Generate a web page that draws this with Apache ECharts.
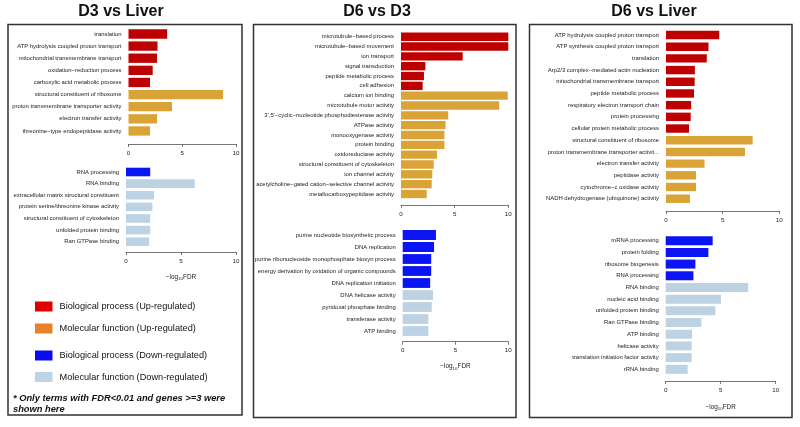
<!DOCTYPE html>
<html><head><meta charset="utf-8">
<script src="https://cdn.jsdelivr.net/npm/echarts@6/dist/echarts.min.js"></script>
<style>html,body{margin:0;padding:0;background:#fff}#c{width:800px;height:427px}</style>
</head><body><div id="c"></div><script>
// ---------- DATA ----------
const d3LiverUpBPCats = ['translation','ATP hydrolysis coupled proton transport','mitochondrial transmembrane transport','oxidation\u2212reduction process','carboxylic acid metabolic process'];
const d3LiverUpBPVals = [3.6, 2.7, 2.65, 2.25, 2.0];
const d3LiverUpMFCats = ['structural constituent of ribosome','proton transmembrane transporter activity','electron transfer activity','threonine\u2212type endopeptidase activity'];
const d3LiverUpMFVals = [8.8, 4.05, 2.65, 2.0];
const d3LiverDownBPCats = ['RNA processing'];
const d3LiverDownBPVals = [2.2];
const d3LiverDownMFCats = ['RNA binding','extracellular matrix structural constituent','protein serine/threonine kinase activity','structural constituent of cytoskeleton','unfolded protein binding','Ran GTPase binding'];
const d3LiverDownMFVals = [6.25, 2.55, 2.4, 2.2, 2.2, 2.1];

const d6D3UpBPCats = ['microtubule\u2212based process','microtubule\u2212based movement','ion transport','signal transduction','peptide metabolic process','cell adhesion'];
const d6D3UpBPVals = [10.0, 10.0, 5.75, 2.27, 2.14, 2.02];
const d6D3UpMFCats = ['calcium ion binding','microtubule motor activity','3\',5\'\u2212cyclic\u2212nucleotide phosphodiesterase activity','ATPase activity','monooxygenase activity','protein binding','oxidoreductase activity','structural constituent of cytoskeleton','ion channel activity','acetylcholine\u2212gated cation\u2212selective channel activity','metallocarboxypeptidase activity'];
const d6D3UpMFVals = [9.95, 9.15, 4.4, 4.15, 4.05, 4.05, 3.35, 3.05, 2.92, 2.86, 2.4];
const d6D3DownBPCats = ['purine nucleotide biosynthetic process','DNA replication','purine ribonucleoside monophosphate biosyn process','energy derivation by oxidation of organic compounds','DNA replication initiation'];
const d6D3DownBPVals = [3.15, 2.97, 2.7, 2.7, 2.6];
const d6D3DownMFCats = ['DNA helicase activity','pyridoxal phosphate binding','transferase activity','ATP binding'];
const d6D3DownMFVals = [2.87, 2.75, 2.43, 2.43];

const d6LiverUpBPCats = ['ATP hydrolysis coupled proton transport','ATP synthesis coupled proton transport','translation','Arp2/3 complex\u2212mediated actin nucleation','mitochondrial transmembrane transport','peptide metabolic process','respiratory electron transport chain','protein processing','cellular protein metabolic process'];
const d6LiverUpBPVals = [4.7, 3.75, 3.6, 2.55, 2.53, 2.47, 2.22, 2.18, 2.03];
const d6LiverUpMFCats = ['structural constituent of ribosome','proton transmembrane transporter activit...','electron transfer activity','peptidase activity','cytochrome\u2212c oxidase activity','NADH dehydrogenase (ubiquinone) activity'];
const d6LiverUpMFVals = [7.65, 6.97, 3.4, 2.65, 2.65, 2.12];
const d6LiverDownBPCats = ['mRNA processing','protein folding','ribosome biogenesis','RNA processing'];
const d6LiverDownBPVals = [4.27, 3.88, 2.7, 2.52];
const d6LiverDownMFCats = ['RNA binding','nucleic acid binding','unfolded protein binding','Ran GTPase binding','ATP binding','helicase activity','translation initiation factor activity','rRNA binding'];
const d6LiverDownMFVals = [7.5, 5.03, 4.52, 3.24, 2.39, 2.36, 2.36, 2.0];

const panelTitles = ['D3 vs Liver', 'D6 vs D3', 'D6 vs Liver'];
const xTicks = [0, 5, 10];
const legendLabels = ['Biological process (Up-regulated)','Molecular function (Up-regulated)','Biological process (Down-regulated)','Molecular function (Down-regulated)'];
const noteLines = ['* Only terms with FDR<0.01 and genes >=3 were', 'shown here'];

// ---------- STYLE / LAYOUT ----------
const FF = 'Liberation Sans, Arial, Helvetica, sans-serif';
const colUpBP = '#bf0000', colUpMF = '#d9a336', colDnBP = '#0b14f2', colDnMF = '#bdd3e3';
const legendColors = ['#e00000', '#e8822a', '#0a0af5', '#bcd4e6'];

const blocks = [
  {bp:[d3LiverUpBPCats,d3LiverUpBPVals], mf:[d3LiverUpMFCats,d3LiverUpMFVals], up:true, L:128.5, T:27.9, W:107.5, H:109.1, off:7, gap:'23%', name:false},
  {bp:[d3LiverDownBPCats,d3LiverDownBPVals], mf:[d3LiverDownMFCats,d3LiverDownMFVals], up:false, L:126, T:166.2, W:110, H:81.3, off:4.5, gap:'26%', name:true, nameGap:21},
  {bp:[d6D3UpBPCats,d6D3UpBPVals], mf:[d6D3UpMFCats,d6D3UpMFVals], up:true, L:401, T:31.8, W:107.3, H:167.1, off:6, gap:'15%', name:false},
  {bp:[d6D3DownBPCats,d6D3DownBPVals], mf:[d6D3DownMFCats,d6D3DownMFVals], up:false, L:402.7, T:229, W:105.6, H:108, off:4.7, gap:'18%', name:true, nameGap:21},
  {bp:[d6LiverUpBPCats,d6LiverUpBPVals], mf:[d6LiverUpMFCats,d6LiverUpMFVals], up:true, L:666, T:29.15, W:113.3, H:175.4, off:6.4, gap:'28%', name:false},
  {bp:[d6LiverDownBPCats,d6LiverDownBPVals], mf:[d6LiverDownMFCats,d6LiverDownMFVals], up:false, L:665.7, T:234.85, W:110, H:140.3, off:5.8, gap:'23%', name:true, nameGap:22}
];

const grid = [], xAxis = [], yAxis = [], series = [];
blocks.forEach((b, i) => {
  const cats = b.bp[0].concat(b.mf[0]);
  const cBP = b.up ? colUpBP : colDnBP, cMF = b.up ? colUpMF : colDnMF;
  const items = b.bp[1].map(v => ({value: v, itemStyle: {color: cBP}}))
    .concat(b.mf[1].map(v => ({value: v, itemStyle: {color: cMF}})));
  grid.push({left: b.L, top: b.T, width: b.W, height: b.H, containLabel: false, outerBoundsMode: 'none'});
  xAxis.push({
    gridIndex: i, type: 'value', min: xTicks[0], max: xTicks[xTicks.length-1], interval: xTicks[1]-xTicks[0],
    offset: b.off,
    axisLine: {show: true, lineStyle: {color: '#555', width: 0.8}},
    axisTick: {show: true, length: 3, lineStyle: {color: '#555', width: 0.8}},
    axisLabel: {fontSize: 6.2, color: '#222', margin: 6, fontFamily: FF},
    splitLine: {show: false},
    name: b.name ? '{a|\u2212log}{b|10}{a|FDR}' : '',
    nameLocation: 'middle', nameGap: b.nameGap || 20,
    nameTextStyle: {rich: {
      a: {fontSize: 6.4, color: '#222', fontFamily: FF},
      b: {fontSize: 4.4, color: '#222', fontFamily: FF, padding: [4, 0, 0, 0]}
    }}
  });
  yAxis.push({
    gridIndex: i, type: 'category', data: cats, inverse: true,
    axisLine: {show: false}, axisTick: {show: false}, splitLine: {show: false},
    axisLabel: {fontSize: 5.9, color: '#222', margin: 7, interval: 0, fontFamily: FF}
  });
  series.push({type: 'bar', xAxisIndex: i, yAxisIndex: i, data: items, barCategoryGap: b.gap, silent: true});
});

const boxes = [[8, 24.5, 234, 390.5], [253.5, 24.5, 262.5, 393], [529.5, 24.5, 262.5, 393]];
const titleX = [121, 377, 654];

const graphic = [];
boxes.forEach(r => graphic.push({type: 'rect', shape: {x: r[0], y: r[1], width: r[2], height: r[3]}, style: {fill: 'none', stroke: '#333', lineWidth: 1.5}, silent: true}));
const legY = [306.5, 328.5, 355.5, 377];
legendLabels.forEach((t, k) => {
  graphic.push({type: 'rect', shape: {x: 35, y: legY[k] - 5, width: 17.5, height: 10}, style: {fill: legendColors[k]}, silent: true});
  graphic.push({type: 'text', x: 59.5, y: legY[k], style: {text: t, fontSize: 9.2, fontFamily: FF, fill: '#111', textVerticalAlign: 'middle'}, silent: true});
});
noteLines.forEach((t, k) => graphic.push({type: 'text', x: 13, y: 398 + k * 11.5, style: {text: t, fontSize: 9.3, fontWeight: 'bold', fontStyle: 'italic', fontFamily: FF, fill: '#111', textVerticalAlign: 'middle'}, silent: true}));

const title = panelTitles.map((t, k) => ({text: t, left: titleX[k], top: 4, textAlign: 'center', padding: 0,
  textStyle: {fontSize: 16, fontWeight: 'bold', color: '#111', fontFamily: FF}}));

const chart = echarts.init(document.getElementById('c'), null, {renderer: 'canvas'});
chart.setOption({animation: false, backgroundColor: '#fff', title, grid, xAxis, yAxis, series, graphic, tooltip: {show: false}});
</script></body></html>
